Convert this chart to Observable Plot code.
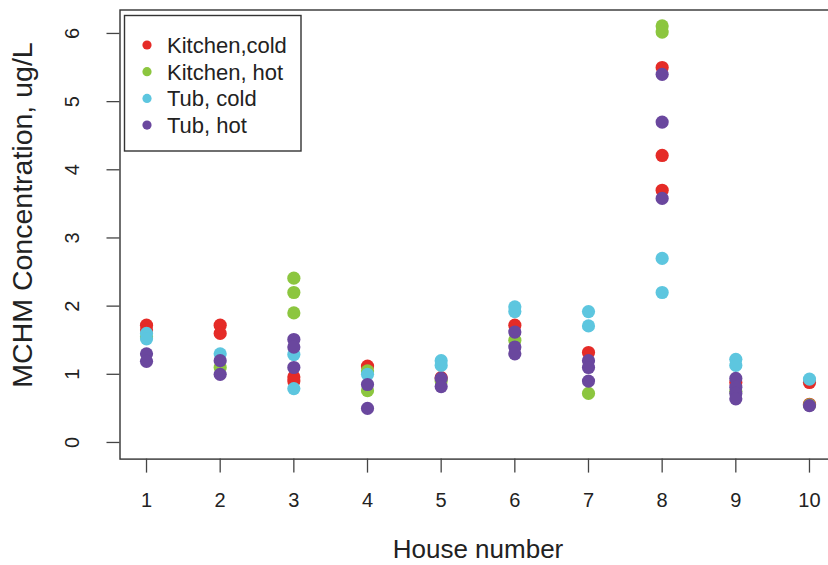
<!DOCTYPE html>
<html>
<head>
<meta charset="utf-8">
<script src="https://cdn.jsdelivr.net/npm/d3@7"></script>
<script src="https://cdn.jsdelivr.net/npm/@observablehq/plot@0.6"></script>
<style>
  html, body { margin: 0; padding: 0; background: #fff; }
  #chart { width: 828px; height: 565px; overflow: hidden; }
</style>
</head>
<body>
<div id="chart"></div>
<script>
const houses = [1, 2, 3, 4, 5, 6, 7, 8, 9, 10];
const yTicks = [0, 1, 2, 3, 4, 5, 6];
const seriesNames = ["Kitchen,cold", "Kitchen, hot", "Tub, cold", "Tub, hot"];
const seriesColors = ["#e52b27", "#8cc63f", "#5dc6df", "#6a479e"];

// [house, MCHM concentration ug/L]
const kitchenCold = [
  [1, 1.72], [1, 1.65], [2, 1.72], [2, 1.6], [3, 0.96], [3, 0.9],
  [4, 1.12], [5, 0.95], [6, 1.72], [7, 1.32],
  [8, 5.5], [8, 4.21], [8, 3.7], [9, 0.88], [10, 0.88], [10, 0.56]
];
const kitchenHot = [
  [1, 1.55], [2, 1.1], [3, 2.41], [3, 2.2], [3, 1.9], [4, 1.05], [4, 0.76],
  [5, 0.9], [6, 1.5], [7, 0.72], [8, 6.11], [8, 6.02], [9, 0.75], [10, 0.55]
];
const tubCold = [
  [1, 1.6], [1, 1.52], [2, 1.3], [3, 1.29], [3, 0.79], [4, 1.0],
  [5, 1.2], [5, 1.13], [6, 1.99], [6, 1.92], [7, 1.92], [7, 1.71],
  [8, 2.7], [8, 2.2], [9, 1.22], [9, 1.13], [10, 0.93]
];
const tubHot = [
  [1, 1.3], [1, 1.19], [2, 1.2], [2, 1.0], [3, 1.51], [3, 1.4], [3, 1.1],
  [4, 0.85], [4, 0.5], [5, 0.94], [5, 0.82], [6, 1.62], [6, 1.4], [6, 1.3],
  [7, 1.2], [7, 1.1], [7, 0.9], [8, 5.4], [8, 4.7], [8, 3.58],
  [9, 0.94], [9, 0.81], [9, 0.72], [9, 0.64], [10, 0.54]
];

const seriesValues = [kitchenCold, kitchenHot, tubCold, tubHot];
const data = seriesValues.flatMap((arr, i) =>
  arr.map(([house, value]) => ({ house, value, series: seriesNames[i] }))
);

const font = "Liberation Sans, Arial, Helvetica, sans-serif";
const ink = "#222";

const chart = Plot.plot({
  width: 828,
  height: 565,
  marginLeft: 119.5,
  marginRight: -7.5,
  marginTop: 9.5,
  marginBottom: 106.4,
  style: { fontFamily: font, background: "#fff", color: ink },
  x: { domain: [0.64, 10.36] },
  y: { domain: [-0.244, 6.344] },
  color: { domain: seriesNames, range: seriesColors },
  marks: [
    Plot.dot(data, { x: "house", y: "value", fill: "series", r: 6.6, stroke: "none" }),
    Plot.frame({ stroke: "#333", strokeWidth: 1.4 }),
    Plot.axisX(houses, {
      tickSize: 14, tickPadding: 20, fontSize: 20, label: null,
      stroke: "#444", strokeWidth: 1.3, fill: ink
    }),
    Plot.axisY(yTicks, {
      tickSize: 13, tickFormat: () => "", label: null,
      stroke: "#444", strokeWidth: 1.3
    }),
    Plot.text(yTicks, {
      y: d => d, text: d => String(d), frameAnchor: "left",
      textAnchor: "middle", lineAnchor: "middle",
      dx: -47, rotate: -90, fontSize: 20, fill: ink
    }),
    Plot.text(["House number"], {
      frameAnchor: "bottom", textAnchor: "middle", lineAnchor: "middle",
      dy: 91, fontSize: 26, fill: ink
    })
  ]
});

const svg = d3.select(chart);

// Y-axis title
svg.append("text")
  .attr("transform", "translate(22,215) rotate(-90)")
  .attr("text-anchor", "middle").attr("dy", "0.35em")
  .attr("font-family", font).attr("font-size", 28.5).attr("fill", ink)
  .text("MCHM Concentration, ug/L");

// Legend (inside the plot frame, top-left)
const lg = svg.append("g").attr("font-family", font).attr("text-anchor", "start");
lg.append("rect")
  .attr("x", 124.5).attr("y", 15.5).attr("width", 176.5).attr("height", 135.5)
  .attr("fill", "#fff").attr("stroke", "#333").attr("stroke-width", 1.4);
seriesNames.forEach((name, i) => {
  const cy = 45 + i * 26.7;
  lg.append("circle").attr("cx", 147).attr("cy", cy).attr("r", 4.6).attr("fill", seriesColors[i]);
  lg.append("text").attr("x", 167).attr("y", cy).attr("dy", "0.36em")
    .attr("text-anchor", "start")
    .attr("font-size", 22).attr("fill", ink).text(name);
});

document.getElementById("chart").appendChild(chart);
</script>
</body>
</html>
